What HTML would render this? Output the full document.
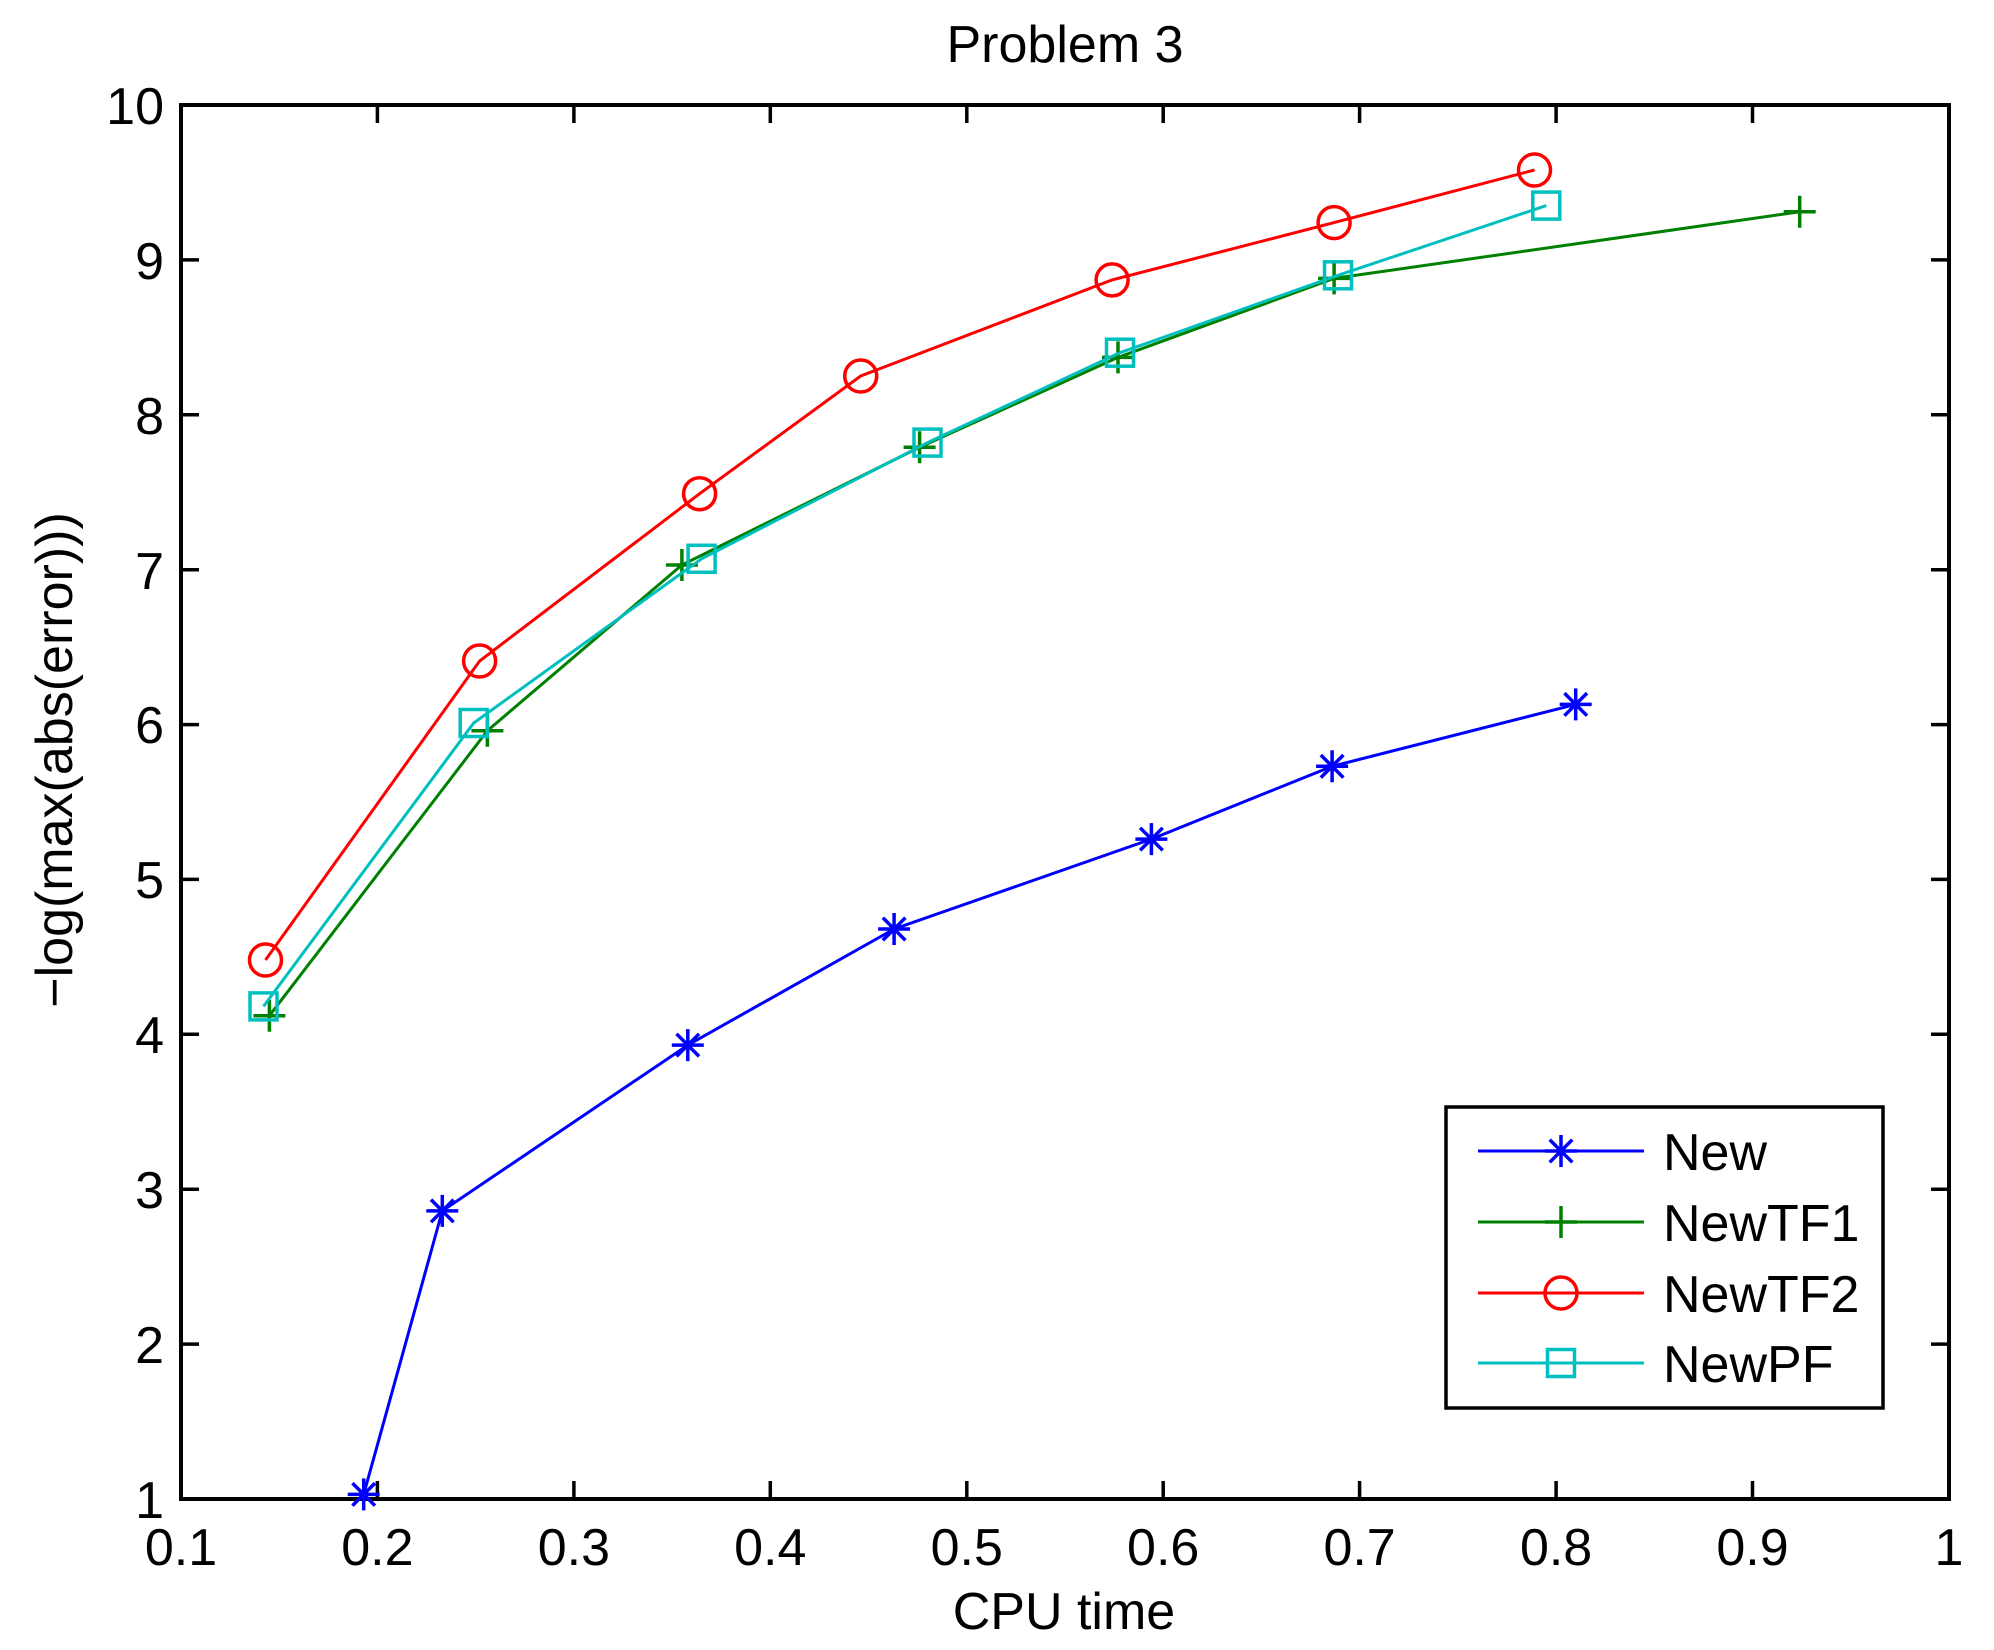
<!DOCTYPE html>
<html><head><meta charset="utf-8"><style>html,body{margin:0;padding:0;background:#fff}svg{display:block}</style></head>
<body>
<svg width="1994" height="1650" viewBox="0 0 1994 1650" xmlns="http://www.w3.org/2000/svg" font-family="Liberation Sans, Arial, sans-serif" font-size="52">
<rect width="1994" height="1650" fill="#fff"/>
<!-- ticks -->
<g stroke="#000" stroke-width="3.5">
<path d="M377.4,1499v-18M377.4,105v18M573.9,1499v-18M573.9,105v18M770.3,1499v-18M770.3,105v18M966.8,1499v-18M966.8,105v18M1163.2,1499v-18M1163.2,105v18M1359.6,1499v-18M1359.6,105v18M1556.1,1499v-18M1556.1,105v18M1752.5,1499v-18M1752.5,105v18"/>
<path d="M181,1344.1h18M1949,1344.1h-18M181,1189.2h18M1949,1189.2h-18M181,1034.3h18M1949,1034.3h-18M181,879.4h18M1949,879.4h-18M181,724.6h18M1949,724.6h-18M181,569.7h18M1949,569.7h-18M181,414.8h18M1949,414.8h-18M181,259.9h18M1949,259.9h-18"/>
<rect x="181" y="105" width="1768" height="1394" fill="none" stroke-width="4"/>
</g>
<!-- tick labels -->
<g text-anchor="middle">
<text x="181" y="1565">0.1</text><text x="377.4" y="1565">0.2</text><text x="573.9" y="1565">0.3</text><text x="770.3" y="1565">0.4</text><text x="966.8" y="1565">0.5</text><text x="1163.2" y="1565">0.6</text><text x="1359.6" y="1565">0.7</text><text x="1556.1" y="1565">0.8</text><text x="1752.5" y="1565">0.9</text><text x="1949" y="1565">1</text>
</g>
<g text-anchor="end">
<text x="164" y="1518">1</text><text x="164" y="1363">2</text><text x="164" y="1208">3</text><text x="164" y="1053">4</text><text x="164" y="898">5</text><text x="164" y="743">6</text><text x="164" y="589">7</text><text x="164" y="434">8</text><text x="164" y="279">9</text><text x="164" y="124">10</text>
</g>
<text x="1065" y="62" text-anchor="middle">Problem 3</text>
<text x="1064" y="1629" text-anchor="middle">CPU time</text>
<text transform="translate(72,760) rotate(-90)" text-anchor="middle">−log(max(abs(error)))</text>

<defs>
<g id="star"><path d="M-16,0H16M0,-16V16M-11.3,-11.3L11.3,11.3M-11.3,11.3L11.3,-11.3" stroke="#00f" stroke-width="3.5" fill="none"/></g>
<g id="plus"><path d="M-16,0H16M0,-16V16" stroke="#008000" stroke-width="3.5" fill="none"/></g>
<g id="circ"><circle r="16" stroke="#f00" stroke-width="3.5" fill="none"/></g>
<g id="sq"><rect x="-13.5" y="-13.5" width="27" height="27" stroke="#00bfbf" stroke-width="3.5" fill="none"/></g>
</defs>

<!-- New -->
<polyline fill="none" stroke="#00f" stroke-width="3" points="363.7,1494.4 442.3,1210.9 687.8,1045.1 894.1,929 1151.4,839.1 1332.1,766.3 1575.7,704.4"/>
<use href="#star" x="363.7" y="1494.4"/><use href="#star" x="442.3" y="1210.9"/><use href="#star" x="687.8" y="1045.1"/><use href="#star" x="894.1" y="929"/><use href="#star" x="1151.4" y="839.1"/><use href="#star" x="1332.1" y="766.3"/><use href="#star" x="1575.7" y="704.4"/>
<!-- NewTF1 -->
<polyline fill="none" stroke="#008000" stroke-width="3" points="269.4,1015.7 487.4,730.7 681.9,565 919.6,447.3 1118,357.4 1334.1,278.4 1799.7,211.8"/>
<use href="#plus" x="269.4" y="1015.7"/><use href="#plus" x="487.4" y="730.7"/><use href="#plus" x="681.9" y="565"/><use href="#plus" x="919.6" y="447.3"/><use href="#plus" x="1118" y="357.4"/><use href="#plus" x="1334.1" y="278.4"/><use href="#plus" x="1799.7" y="211.8"/>
<!-- NewTF2 -->
<polyline fill="none" stroke="#f00" stroke-width="3" points="265.5,960 479.6,661 699.6,493.7 860.7,376 1112.1,279.9 1334.1,222.6 1534.5,170"/>
<use href="#circ" x="265.5" y="960"/><use href="#circ" x="479.6" y="661"/><use href="#circ" x="699.6" y="493.7"/><use href="#circ" x="860.7" y="376"/><use href="#circ" x="1112.1" y="279.9"/><use href="#circ" x="1334.1" y="222.6"/><use href="#circ" x="1534.5" y="170"/>
<!-- NewPF -->
<polyline fill="none" stroke="#00bfbf" stroke-width="3" points="263.5,1006.4 473.7,723 701.6,558.8 927.5,442.6 1120,352.7 1338,275.3 1546.3,205.6"/>
<use href="#sq" x="263.5" y="1006.4"/><use href="#sq" x="473.7" y="723"/><use href="#sq" x="701.6" y="558.8"/><use href="#sq" x="927.5" y="442.6"/><use href="#sq" x="1120" y="352.7"/><use href="#sq" x="1338" y="275.3"/><use href="#sq" x="1546.3" y="205.6"/>

<!-- legend -->
<rect x="1446" y="1107" width="437" height="301" fill="#fff" stroke="#000" stroke-width="3.5"/>
<path d="M1478,1151H1644" stroke="#00f" stroke-width="3"/><use href="#star" x="1561" y="1151"/>
<path d="M1478,1222H1644" stroke="#008000" stroke-width="3"/><use href="#plus" x="1561" y="1222"/>
<path d="M1478,1293H1644" stroke="#f00" stroke-width="3"/><use href="#circ" x="1561" y="1293"/>
<path d="M1478,1363H1644" stroke="#00bfbf" stroke-width="3"/><use href="#sq" x="1561" y="1363"/>
<text x="1663" y="1170">New</text>
<text x="1663" y="1241">NewTF1</text>
<text x="1663" y="1312">NewTF2</text>
<text x="1663" y="1382">NewPF</text>
</svg>
</body></html>
